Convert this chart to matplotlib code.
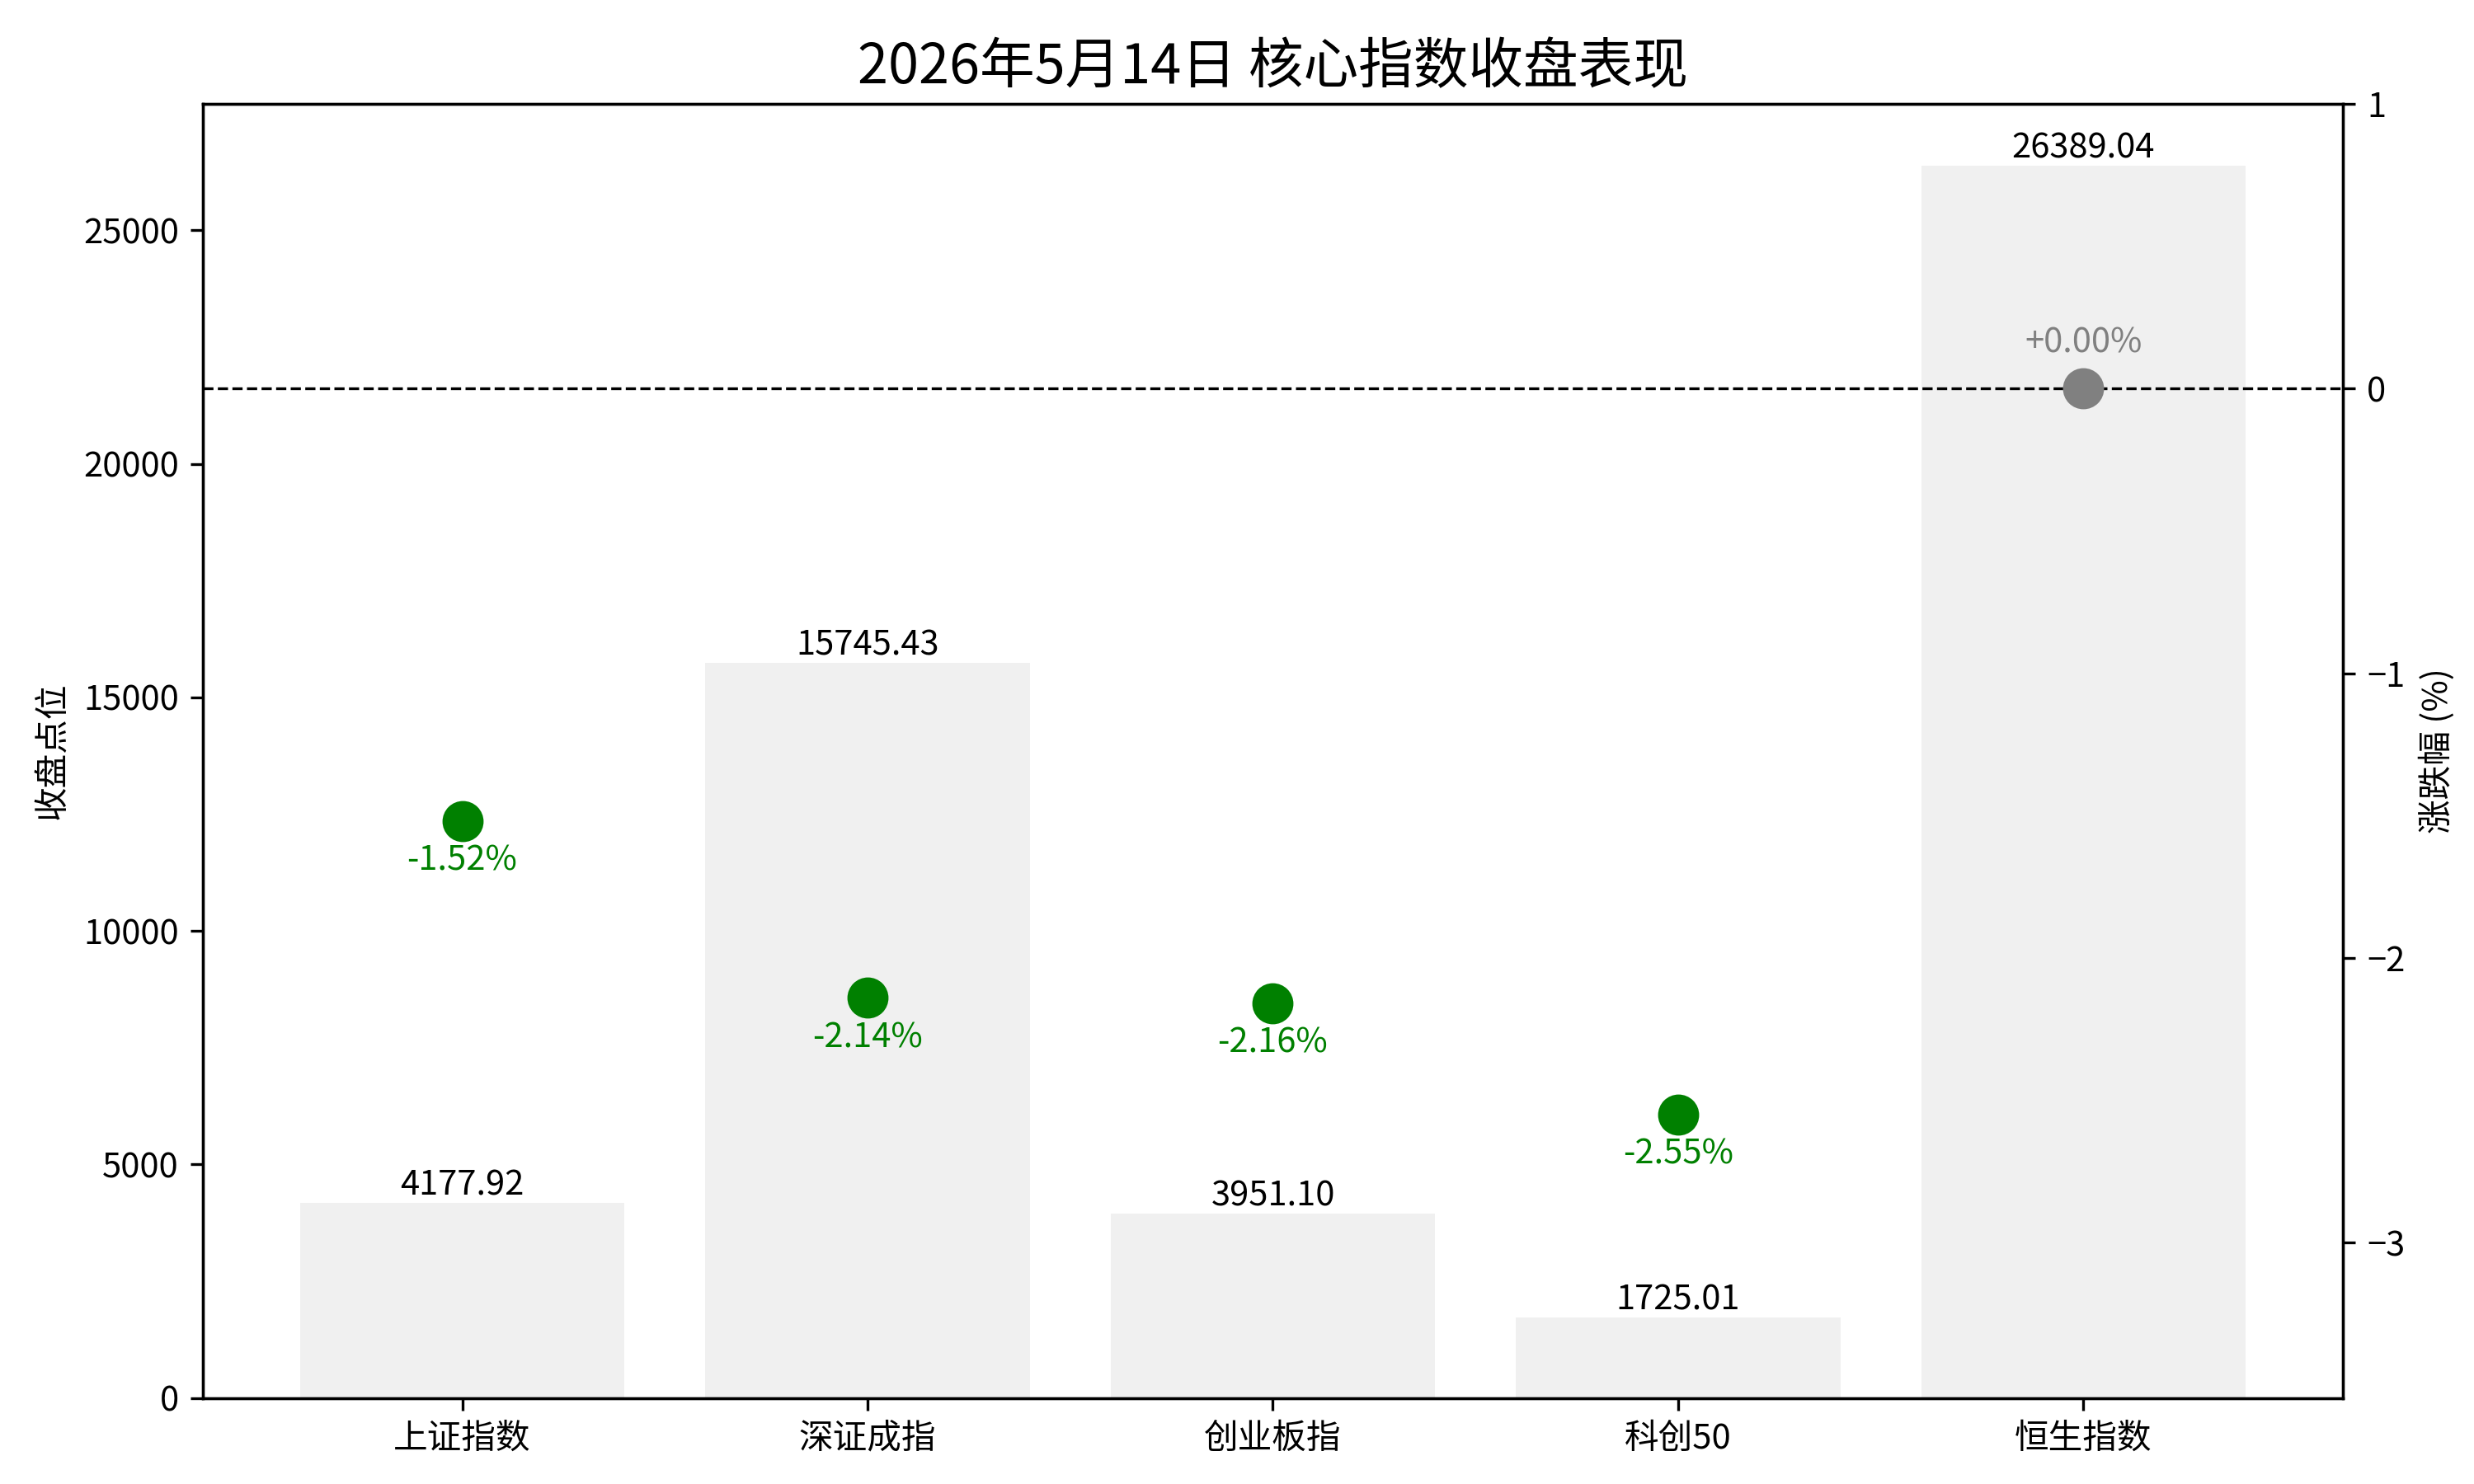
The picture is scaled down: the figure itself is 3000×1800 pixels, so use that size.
import matplotlib.pyplot as plt

plt.rcParams['font.family'] = ['Noto Sans CJK SC', 'DejaVu Sans']

names = ['上证指数', '深证成指', '创业板指', '科创50', '恒生指数']
closes = [4177.92, 15745.43, 3951.10, 1725.01, 26389.04]
changes = [-1.52, -2.14, -2.16, -2.55, 0.00]

fig, ax = plt.subplots(figsize=(10, 6), dpi=300)
fig.subplots_adjust(left=0.082, right=0.947, top=0.93, bottom=0.058)

x = range(len(names))
ax.bar(x, closes, color='#f0f0f0', width=0.8)
for i, v in enumerate(closes):
    ax.text(i, v, f'{v:.2f}', ha='center', va='bottom', fontsize=10)
ax.set_xticks(list(x))
ax.set_xticklabels(names, fontsize=10)
ax.set_ylabel('收盘点位', fontsize=10)
ax.set_ylim(0, max(closes) * 1.05)
ax.tick_params(labelsize=10)

ax2 = ax.twinx()
ax2.axhline(0, color='black', linestyle='--', linewidth=0.8)
for i, c in enumerate(changes):
    col = 'green' if c < 0 else ('red' if c > 0 else 'gray')
    ax2.scatter(i, c, s=120, color=col, zorder=3)
    if c < 0:
        ax2.text(i, c - 0.08, f'{c:.2f}%', ha='center', va='top', color=col, fontsize=10)
    else:
        ax2.text(i, c + 0.1, f'+{c:.2f}%', ha='center', va='bottom', color=col, fontsize=10)
ax2.set_ylim(-3.545, 1)
ax2.set_yticks([-3, -2, -1, 0, 1])
ax2.set_ylabel('涨跌幅 (%)', fontsize=10)
ax2.tick_params(labelsize=10)

ax.set_title('2026年5月14日 核心指数收盘表现', fontsize=16)
fig.savefig('out.png')
